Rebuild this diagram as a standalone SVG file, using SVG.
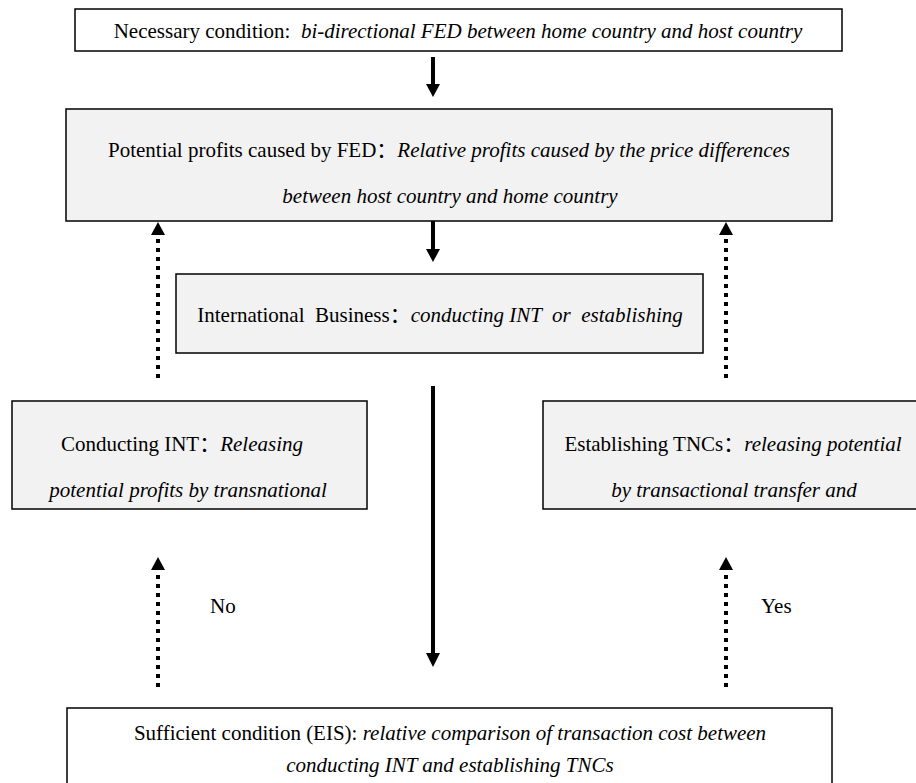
<svg xmlns="http://www.w3.org/2000/svg" width="916" height="783" viewBox="0 0 916 783">
<style>
.box{fill:#f2f2f2;stroke:#000;stroke-width:1.5}
.wbox{fill:#fff;stroke:#000;stroke-width:1.5}
text{font-family:"Liberation Serif","Noto Sans CJK SC",serif;font-size:21px;fill:#000}
.c{text-anchor:middle}
.i{font-family:"Liberation Serif",serif;font-style:italic}
.solid{stroke:#000;stroke-width:4;fill:none}
.dot{stroke:#000;stroke-width:4;fill:none;stroke-dasharray:4 5}
.head{fill:#000}
</style>
<rect width="916" height="783" fill="#fff"/>
<g id="connectors">
  <line class="solid" x1="433" y1="57" x2="433" y2="86"/>
  <polygon class="head" points="426,84 440,84 433,97"/>
  <line class="solid" x1="433" y1="221" x2="433" y2="251"/>
  <polygon class="head" points="426,249 440,249 433,262"/>
  <line class="solid" x1="433" y1="386" x2="433" y2="655"/>
  <polygon class="head" points="426,653 440,653 433,667"/>
  <line class="dot" x1="158" y1="378" x2="158" y2="236"/>
  <polygon class="head" points="151,235 165,235 158,222"/>
  <line class="dot" x1="726" y1="378" x2="726" y2="236"/>
  <polygon class="head" points="719,235 733,235 726,222"/>
  <line class="dot" x1="158" y1="687" x2="158" y2="571"/>
  <polygon class="head" points="151,570 165,570 158,557"/>
  <line class="dot" x1="726" y1="687" x2="726" y2="571"/>
  <polygon class="head" points="719,570 733,570 726,557"/>
  <text x="210" y="613">No</text>
  <text x="761" y="613">Yes</text>
</g>
<g id="necessary">
  <rect class="wbox" x="75" y="9" width="767" height="42"/>
  <text class="c" x="458" y="38" xml:space="preserve">Necessary condition:  <tspan class="i">bi-directional FED between home country and host country</tspan></text>
</g>
<g id="potential">
  <rect class="box" x="66" y="109" width="766" height="112"/>
  <text class="c" x="449" y="157">Potential profits caused by FED：<tspan class="i">Relative profits caused by the price differences</tspan></text>
  <text class="c i" x="450" y="203">between host country and home country</text>
</g>
<g id="international">
  <rect class="box" x="176" y="274" width="527" height="79"/>
  <text class="c" x="440" y="322" xml:space="preserve">International  Business：<tspan class="i">conducting INT  or  establishing</tspan></text>
</g>
<g id="conducting">
  <rect class="box" x="12" y="401" width="355" height="108"/>
  <text class="c" x="182" y="451">Conducting INT：<tspan class="i">Releasing</tspan></text>
  <text class="c i" x="188" y="497">potential profits by transnational</text>
</g>
<g id="establishing">
  <rect class="box" x="543" y="401" width="385" height="108"/>
  <text class="c" x="733" y="451">Establishing TNCs：<tspan class="i">releasing potential</tspan></text>
  <text class="c i" x="734" y="497">by transactional transfer and</text>
</g>
<g id="sufficient">
  <rect class="wbox" x="67" y="708" width="765" height="90"/>
  <text class="c" x="450" y="740">Sufficient condition (EIS): <tspan class="i">relative comparison of transaction cost between</tspan></text>
  <text class="c i" x="450" y="772">conducting INT and establishing TNCs</text>
</g>
</svg>
